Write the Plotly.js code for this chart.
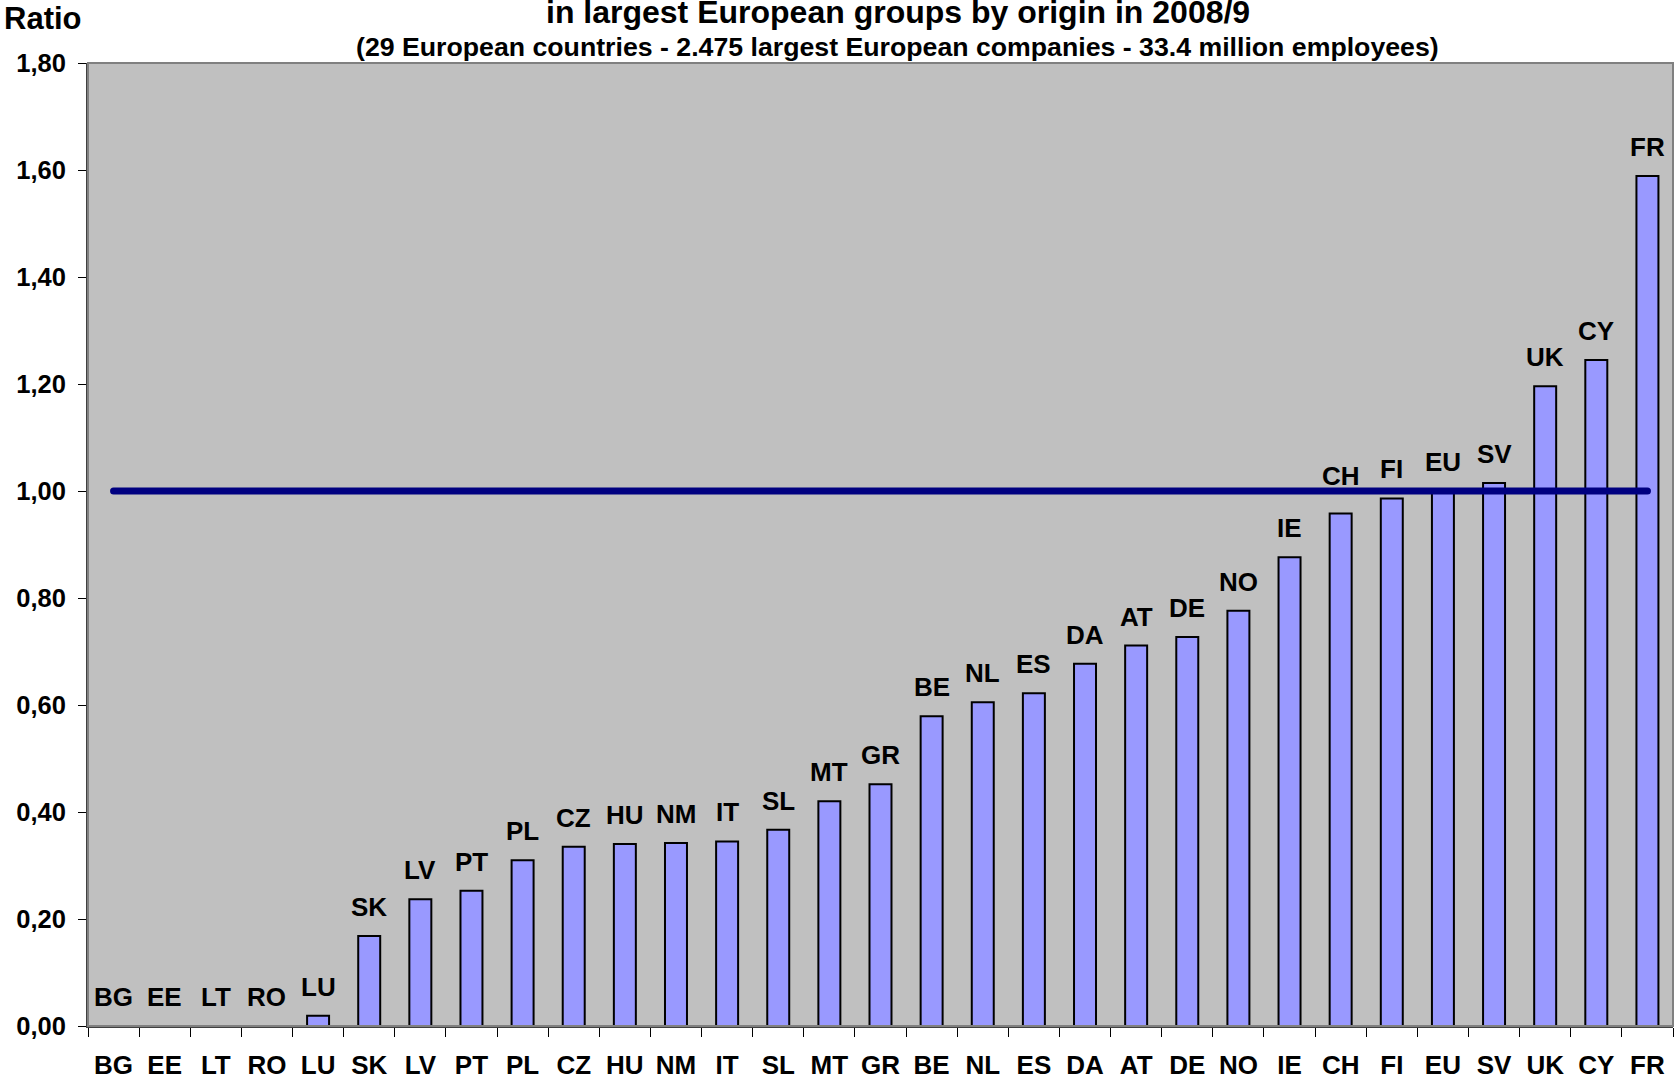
<!DOCTYPE html>
<html>
<head>
<meta charset="utf-8">
<script src="https://cdn.plot.ly/plotly-3.0.1.min.js"></script>
<style>
  html, body { margin: 0; padding: 0; background: #ffffff; }
  #chart { width: 1674px; height: 1083px; }
  .scatterlayer .js-line { stroke-linecap: round; }
</style>
</head>
<body>
<div id="chart"></div>
<script>
const categories = ['BG','EE','LT','RO','LU','SK','LV','PT','PL','CZ','HU','NM','IT','SL','MT','GR','BE','NL','ES','DA','AT','DE','NO','IE','CH','FI','EU','SV','UK','CY','FR'];
const ratios = [0, 0, 0, 0, 0.019, 0.168, 0.237, 0.253, 0.310, 0.335, 0.340, 0.342, 0.345, 0.367, 0.420, 0.452, 0.579, 0.605, 0.622, 0.677, 0.711, 0.727, 0.776, 0.876, 0.958, 0.986, 1.000, 1.015, 1.196, 1.245, 1.589];
const referenceLevel = 1.0;
const titleLine = 'in largest European groups by origin in 2008/9';
const subtitleLine = '(29 European countries - 2.475 largest European companies - 33.4 million employees)';
const yAxisLabel = 'Ratio';

const FONT = 'Arial, "Liberation Sans", sans-serif';
const Y_MAX = 1.8;
const PLOT_H = 1083 - 63 - 57;
const pxPerUnit = PLOT_H / Y_MAX;
const LABEL_SHIFT = 12;
const BASELINE_OFFSET = 7.5;
const LINE_W = 7;

const barTrace = {
  type: 'bar',
  x: categories,
  y: ratios,
  width: 0.43,
  marker: { color: '#9999FF', line: { color: '#000000', width: 2 } },
  hoverinfo: 'x+y'
};

const lineTrace = {
  type: 'scatter',
  mode: 'lines',
  x: [categories[0], categories[categories.length - 1]],
  y: [referenceLevel, referenceLevel],
  line: { color: '#000080', width: LINE_W },
  hoverinfo: 'skip'
};

// Labels sit above their bar; a label that would collide with the reference line is lifted just above it.
const labelAnnotations = categories.map((c, i) => {
  const v = ratios[i];
  let shift = LABEL_SHIFT;
  const baselinePx = v * pxPerUnit + LABEL_SHIFT + BASELINE_OFFSET;
  const clearPx = referenceLevel * pxPerUnit + 6;
  if (v < referenceLevel && baselinePx > clearPx - 24 && baselinePx < clearPx) {
    shift += clearPx - baselinePx;
  }
  return {
    x: c, y: v, xref: 'x', yref: 'y',
    text: '<b>' + c + '</b>',
    showarrow: false, xanchor: 'center', yanchor: 'bottom', yshift: shift,
    font: { family: FONT, size: 26, color: '#000000' }
  };
});

const textAnnotations = [
  { xref: 'paper', yref: 'paper', x: 0.511, y: 1.053, xanchor: 'center', yanchor: 'middle',
    text: '<b>' + titleLine + '</b>', showarrow: false,
    font: { family: FONT, size: 32, color: '#000000' } },
  { xref: 'paper', yref: 'paper', x: 0.511, y: 1.0165, xanchor: 'center', yanchor: 'middle',
    text: '<b>' + subtitleLine + '</b>', showarrow: false,
    font: { family: FONT, size: 26.7, color: '#000000' } },
  { xref: 'paper', yref: 'paper', x: -0.0545, y: 1.046, xanchor: 'left', yanchor: 'middle',
    text: '<b>' + yAxisLabel + '</b>', showarrow: false,
    font: { family: FONT, size: 31, color: '#000000' } }
];

const layout = {
  width: 1674,
  height: 1083,
  margin: { l: 88, r: 1, t: 63, b: 57, pad: 0 },
  paper_bgcolor: '#ffffff',
  plot_bgcolor: '#C0C0C0',
  separators: ',.',
  showlegend: false,
  font: { family: FONT, color: '#000000' },
  xaxis: {
    type: 'category',
    categoryorder: 'array',
    categoryarray: categories,
    range: [-0.5, categories.length - 0.5],
    tickson: 'boundaries',
    ticks: 'outside',
    ticklen: 9,
    tickwidth: 1,
    tickcolor: '#000000',
    showline: true,
    linecolor: '#404040',
    linewidth: 2,
    showgrid: false,
    zeroline: false,
    tickfont: { family: FONT, size: 26, color: '#000000', weight: 'bold' },
    ticklabelstandoff: 15,
    fixedrange: true
  },
  yaxis: {
    range: [0, Y_MAX],
    dtick: 0.2,
    tick0: 0,
    tickformat: '.2f',
    ticks: 'outside',
    ticklen: 8,
    tickwidth: 1,
    tickcolor: '#000000',
    showline: true,
    linecolor: '#404040',
    linewidth: 2,
    showgrid: false,
    zeroline: false,
    tickfont: { family: FONT, size: 25.5, color: '#000000', weight: 'bold' },
    ticklabelstandoff: 7,
    fixedrange: true
  },
  shapes: [
    { type: 'rect', xref: 'paper', yref: 'paper', x0: 0, x1: 1, y0: 0, y1: 1,
      line: { color: '#808080', width: 2 }, fillcolor: 'rgba(0,0,0,0)', layer: 'above' }
  ],
  annotations: labelAnnotations.concat(textAnnotations),
  bargap: 0.57
};

Plotly.newPlot('chart', [barTrace, lineTrace], layout, { displayModeBar: false, staticPlot: true });
</script>
</body>
</html>
